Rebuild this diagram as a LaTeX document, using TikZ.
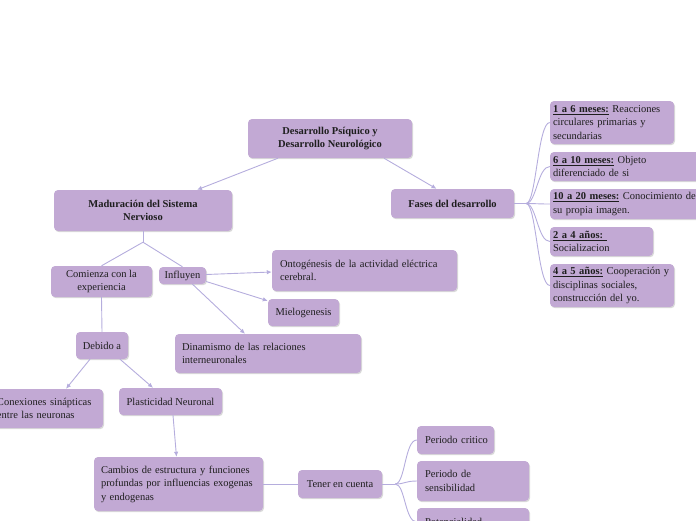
\documentclass[tikz,border=0pt]{standalone}
\usepackage{fontspec}
\setmainfont{Liberation Serif}
\usetikzlibrary{shadows,arrows.meta}
\definecolor{boxfill}{HTML}{C2A9D4}
\definecolor{linec}{HTML}{B5ADDD}
\definecolor{txt}{HTML}{1E1E1E}
\begin{document}
\begin{tikzpicture}[x=1pt,y=-1pt,
  box/.style={fill=boxfill, rounded corners=4pt,
    drop shadow={shadow xshift=1pt, shadow yshift=-1.2pt, opacity=0.3},
    inner ysep=0pt, text=txt, font=\fontsize{10.5}{13.5}\selectfont},
  cbox/.style={box, align=center},
  lbox/.style={box, align=left},
  con/.style={draw=linec, line width=0.9pt},
  arr/.style={con, -{Latex[length=5pt,width=4.5pt]}}]
\useasboundingbox (0,0) rectangle (696,520);
\clip (0,0) rectangle (696,520);

% main nodes
\node[cbox, minimum width=164pt, minimum height=39pt, font=\fontsize{10.5}{13.5}\selectfont\bfseries] (title) at (330,138.5) {Desarrollo Psíquico y\\Desarrollo Neurológico};
\node[cbox, minimum width=178pt, minimum height=41pt, font=\fontsize{10.5}{13.5}\selectfont\bfseries] (mad) at (143,210.5) {Maduración del Sistema\\Nervioso};
\node[cbox, minimum width=123pt, minimum height=29pt, font=\fontsize{10.5}{13.5}\selectfont\bfseries] (fases) at (452.5,203.5) {Fases del desarrollo};

% fases children
\node[lbox, inner xsep=3pt, text width=118pt, minimum height=43pt] (f1) at (612,122.5) {\mbox{\underline{\textbf{1 a 6 meses:}} Reacciones}\\circulares primarias y\\secundarias};
\node[lbox, inner xsep=3pt, text width=144pt, minimum height=29pt] (f2) at (625,166.5) {\mbox{\underline{\textbf{6 a 10 meses:}} Objeto}\\diferenciado de si};
\node[lbox, inner xsep=3pt, text width=144pt, minimum height=30pt] (f3) at (625,204) {\mbox{\underline{\textbf{10 a 20 meses:}} Conocimiento de}\\su propia imagen.};
\node[lbox, inner xsep=3pt, text width=97pt, minimum height=29pt] (f4) at (601.5,241.5) {\underline{\textbf{2 a 4 años:}\ }\\Socializacion};
\node[lbox, inner xsep=3pt, text width=118pt, minimum height=43pt] (f5) at (612,285.5) {\mbox{\underline{\textbf{4 a 5 años:}} Cooperación y}\\disciplinas sociales,\\construcción del yo.};

% left branch
\node[cbox, minimum width=101pt, minimum height=31pt] (com) at (101.5,281.5) {Comienza con la\\experiencia};
\node[cbox, inner xsep=2pt, minimum width=47pt, minimum height=17pt] (inf) at (182.5,275.5) {Influyen};
\node[lbox, inner xsep=8pt, text width=169pt, minimum height=41pt] (ont) at (364.5,270.5) {\mbox{Ontogénesis de la actividad eléctrica}\\cerebral.};
\node[cbox, minimum width=71pt, minimum height=27pt] (mie) at (303.5,312.5) {Mielogenesis};
\node[lbox, inner xsep=7pt, text width=172pt, minimum height=39pt] (din) at (268,353.5) {Dinamismo de las relaciones\\interneuronales};
\node[cbox, minimum width=52pt, minimum height=27pt] (deb) at (102,345.5) {Debido a};
\node[lbox, inner xsep=8pt, text width=98pt, minimum height=39pt] (cnx) at (46,408.5) {\mbox{Conexiones sinápticas}\\entre las neuronas};
\node[cbox, minimum width=103pt, minimum height=27pt] (pla) at (170.5,401.5) {Plasticidad Neuronal};
\node[lbox, inner xsep=7pt, text width=155pt, minimum height=54pt] (cam) at (178.5,484) {\mbox{Cambios de estructura y funciones}\\\mbox{profundas por influencias exogenas}\\y endogenas};
\node[cbox, minimum width=84pt, minimum height=28pt] (ten) at (340,484) {Tener en cuenta};
\node[lbox, inner xsep=8pt, text width=61pt, minimum height=28pt] (p1) at (455.5,440) {\mbox{Periodo critico}};
\node[lbox, inner xsep=8pt, text width=96pt, minimum height=40pt] (p2) at (473,481) {Periodo de\\sensibilidad};
\node[lbox, inner xsep=8pt, text width=96pt, minimum height=28pt] (p3) at (473,522) {Potencialidad};

% connectors
\draw[arr] ([xshift=-52pt]title.south) -- ([xshift=54pt]mad.north);
\draw[arr] ([xshift=54pt]title.south) -- ([xshift=-16pt]fases.north);

\draw[con] (fases.east) -- ++(12,0) coordinate (fb);
\foreach \c in {f1,f2,f3,f4,f5}
  \draw[con] (fb) .. controls +(10,0) and +(-12,0) .. (\c.west);

\draw[con] (mad.south) -- ++(0,11) coordinate (mb);
\draw[con] (mb) -- (com.north);
\draw[con] (mb) -- (inf.north);

\draw[arr] ([yshift=1pt]inf.east) -- ([yshift=-1.5pt]ont.west);
\draw[arr] ([yshift=-6pt]inf.east) -- ([yshift=-2pt]mie.north west);
\draw[arr] ([xshift=10pt]inf.south) -- ([xshift=-23pt]din.north);

\draw[con] (com.south) -- (deb.north);
\draw[arr] ([xshift=-12pt]deb.south) -- ([xshift=20pt]cnx.north);
\draw[arr] ([xshift=18pt]deb.south) -- ([xshift=-17.5pt]pla.north);
\draw[arr] ([xshift=2.5pt]pla.south) -- ([xshift=-2pt]cam.north);
\draw[con] (cam.east) -- (ten.west);

\draw[con] (ten.east) -- ++(13,0) coordinate (tb);
\foreach \c in {p1,p2,p3}
  \draw[con] (tb) .. controls +(10,0) and +(-12,0) .. (\c.west);
\end{tikzpicture}
\end{document}
